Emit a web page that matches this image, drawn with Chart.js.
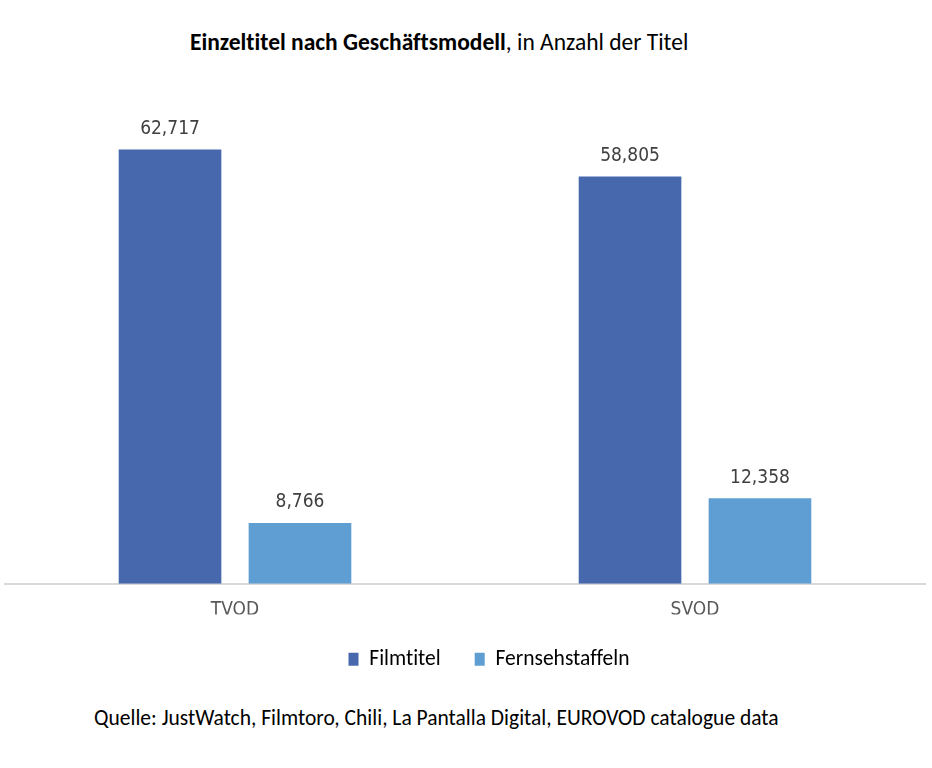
<!DOCTYPE html>
<html>
<head>
<meta charset="utf-8">
<script src="https://cdn.jsdelivr.net/npm/chart.js@4.4.1/dist/chart.umd.min.js"></script>
<style>
  body { margin: 0; background: #fff; width: 932px; height: 768px; position: relative; overflow: hidden; }
  #title { position: absolute; left: 190px; top: 28px; font-family: Carlito, Lato, "Open Sans", sans-serif; font-size: 23.5px; color: #000; white-space: nowrap; font-variant-ligatures: none; }
  #title b { font-weight: bold; }
  #source { position: absolute; left: 94px; top: 705px; font-family: Carlito, Lato, "Open Sans", sans-serif; font-size: 21.5px; color: #000; white-space: nowrap; font-variant-ligatures: none; }
  #wrap { position: absolute; left: 0; top: 0; width: 932px; height: 680px; }
  canvas { font-variant-ligatures: none; }
</style>
</head>
<body>
<div id="title"><b>Einzeltitel nach Geschäftsmodell</b>, in Anzahl der Titel</div>
<div id="wrap"><canvas id="myChart"></canvas></div>
<div id="source">Quelle: JustWatch, Filmtoro, Chili, La Pantalla Digital, EUROVOD catalogue data</div>
<script>
// Categories and series
const models = ['TVOD', 'SVOD'];
const filmTitles = [62717, 58805];
const tvSeasons = [8766, 12358];

const narrowFont = "'Liberation Sans Narrow', 'DejaVu Sans Condensed', sans-serif";

// Draws the value above each bar
const valueLabels = {
    id: 'valueLabels',
    afterDatasetsDraw(chart) {
        const ctx = chart.ctx;
        ctx.save();
        ctx.font = '19px ' + narrowFont;
        ctx.fillStyle = '#404040';
        ctx.textAlign = 'center';
        ctx.textBaseline = 'bottom';
        chart.data.datasets.forEach((ds, i) => {
            chart.getDatasetMeta(i).data.forEach((bar, j) => {
                ctx.fillText(ds.data[j].toLocaleString('en-US'), bar.x, bar.y - 11);
            });
        });
        ctx.restore();
    }
};

// The legend in the original sits a bit right of centre
const legendShift = {
    id: 'legendShift',
    afterLayout(chart) {
        chart.legend.left += 24;
        chart.legend.right += 24;
    }
};

function createChart() {
    const ctx = document.getElementById('myChart');
    new Chart(ctx, {
        type: 'bar',
        data: {
            labels: models,
            datasets: [{
                label: 'Filmtitel',
                data: filmTitles,
                backgroundColor: '#4868ad'
            }, {
                label: 'Fernsehstaffeln',
                data: tvSeasons,
                backgroundColor: '#5f9ed3'
            }]
        },
        options: {
            responsive: true,
            maintainAspectRatio: false,
            animation: false,
            categoryPercentage: 0.565,
            barPercentage: 0.79,
            layout: { padding: { left: 5, right: 7, top: 99, bottom: 0 } },
            scales: {
                x: {
                    grid: { display: false, drawTicks: false },
                    border: { display: true, color: '#d9d9d9', width: 2 },
                    ticks: { color: '#595959', padding: 15, font: { family: narrowFont, size: 19 } },
                    afterFit(scale) { scale.height -= 22; }
                },
                y: {
                    display: false,
                    min: 0,
                    max: 70000
                }
            },
            plugins: {
                legend: {
                    position: 'bottom',
                    labels: {
                        boxWidth: 10,
                        boxHeight: 13,
                        padding: 34,
                        color: '#000',
                        font: { family: "Carlito, Lato, 'Open Sans', sans-serif", size: 21.5 }
                    }
                },
                tooltip: { enabled: false }
            }
        },
        plugins: [valueLabels, legendShift]
    });
}

document.addEventListener("DOMContentLoaded", function () {
    createChart();
});
</script>
</body>
</html>
